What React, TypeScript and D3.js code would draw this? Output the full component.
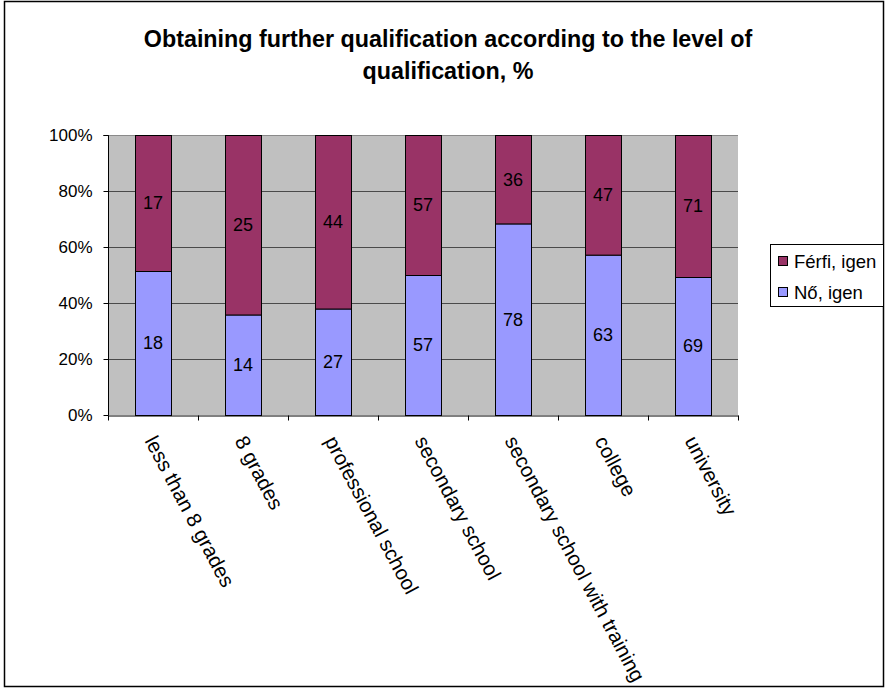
import React, { useEffect, useRef } from 'react';
import * as d3 from 'd3';

const categories = [
  'less than 8 grades',
  '8 grades',
  'professional school',
  'secondary school',
  'secondary school with training',
  'college',
  'university',
];
const noIgen = [18, 14, 27, 57, 78, 63, 69];
const ferfiIgen = [17, 25, 44, 57, 36, 47, 71];
const seriesNames = ['Nő, igen', 'Férfi, igen'];
const seriesColors = ['#9999FF', '#993366'];
const yTicks = [0, 0.2, 0.4, 0.6, 0.8, 1];
const titleLines = ['Obtaining further qualification according to the level of', 'qualification, %'];

const FONT = 'Arial, "Liberation Sans", sans-serif';

export default function App() {
  const svgRef = useRef<SVGSVGElement | null>(null);

  useEffect(() => {
    if (!svgRef.current) return;
    const width = 887;
    const height = 688;
    const plot = { left: 108, right: 738, top: 135, bottom: 415 };

    const svg = d3.select(svgRef.current);
    svg.selectAll('*').remove();
    svg.attr('width', width).attr('height', height);

    svg.append('rect').attr('x', 0).attr('y', 0).attr('width', width).attr('height', height).attr('fill', '#fff');

    // outer border
    svg.append('rect')
      .attr('x', 4.5).attr('y', 1.5).attr('width', 879).attr('height', 685)
      .attr('fill', 'none').attr('stroke', '#000').attr('stroke-width', 1.5);

    // title
    const title = svg.append('text')
      .attr('text-anchor', 'middle')
      .style('font-family', FONT).style('font-weight', 'bold').style('font-size', '23.3px')
      .attr('fill', '#000');
    titleLines.forEach((t, i) => {
      title.append('tspan').attr('x', 448).attr('y', 47 + i * 32).text(t);
    });

    const rows = categories.map((c, i) => ({ cat: c, nő: noIgen[i], férfi: ferfiIgen[i] }));
    const stacked = d3.stack<any>().keys(['nő', 'férfi']).offset(d3.stackOffsetExpand)(rows);

    const x = d3.scaleBand().domain(categories).range([plot.left, plot.right]).paddingInner(0.6).paddingOuter(0.3);
    const y = d3.scaleLinear().domain([0, 1]).range([plot.bottom, plot.top]);

    // plot background
    svg.append('rect')
      .attr('x', plot.left).attr('y', plot.top)
      .attr('width', plot.right - plot.left).attr('height', plot.bottom - plot.top)
      .attr('fill', '#C0C0C0');

    // gridlines
    svg.append('g').selectAll('line').data(yTicks.filter(d => d > 0)).join('line')
      .attr('x1', plot.left).attr('x2', plot.right)
      .attr('y1', d => y(d) + 0.5).attr('y2', d => y(d) + 0.5)
      .attr('stroke', d => (d === 1 ? '#8a8a8a' : '#4a4a4a')).attr('stroke-width', 1);

    // bars
    stacked.forEach((layer, si) => {
      svg.append('g').selectAll('rect').data(layer).join('rect')
        .attr('x', d => (x(d.data.cat) as number) + 0.5)
        .attr('y', d => y(d[1]) + 0.5)
        .attr('width', x.bandwidth())
        .attr('height', d => y(d[0]) - y(d[1]))
        .attr('fill', seriesColors[si])
        .attr('stroke', '#000').attr('stroke-width', 1);

      svg.append('g').selectAll('text').data(layer).join('text')
        .attr('x', d => (x(d.data.cat) as number) + x.bandwidth() / 2)
        .attr('y', d => (y(d[0]) + y(d[1])) / 2)
        .attr('text-anchor', 'middle').attr('dy', '0.36em')
        .style('font-family', FONT).style('font-size', '18px').attr('fill', '#000')
        .text((d, i) => (si === 0 ? noIgen[i] : ferfiIgen[i]));
    });

    // y axis
    svg.append('g').attr('transform', `translate(${plot.left + 0.5},0)`)
      .call(d3.axisLeft(y).tickValues(yTicks).tickFormat(d3.format('.0%')).tickSize(5).tickPadding(11))
      .call(g => g.selectAll('text').attr('fill', '#000').style('font-family', FONT).style('font-size', '17px'))
      .call(g => g.selectAll('line').attr('stroke', '#000'))
      .call(g => g.select('.domain').attr('stroke', '#000').attr('d', `M-5,${plot.top + 0.5}H0V${plot.bottom + 0.5}`));

    // x axis with ticks between categories
    const xb = d3.scaleLinear().domain([0, categories.length]).range([plot.left, plot.right]);
    svg.append('g').attr('transform', `translate(0,${plot.bottom + 0.5})`)
      .call(d3.axisBottom(xb).tickValues(d3.range(categories.length + 1)).tickFormat(() => '').tickSize(5).tickSizeOuter(0))
      .call(g => g.selectAll('line').attr('stroke', '#000'))
      .call(g => g.select('.domain').attr('stroke', '#000'));

    // category labels
    svg.append('g').selectAll('text').data(categories).join('text')
      .attr('transform', d => `translate(${(x(d) as number) + x.bandwidth() / 2 + 4},434) rotate(62)`)
      .attr('dy', '0.71em')
      .style('font-family', FONT).style('font-size', '20.5px').attr('fill', '#000')
      .text(d => d);

    // legend
    const lg = svg.append('g');
    lg.append('rect')
      .attr('x', 770.5).attr('y', 244.5).attr('width', 113).attr('height', 62)
      .attr('fill', '#fff').attr('stroke', '#000');
    const legendItems = [1, 0];
    legendItems.forEach((si, i) => {
      const cy = 261 + i * 31;
      lg.append('rect')
        .attr('x', 778.5).attr('y', cy - 4.5).attr('width', 9).attr('height', 9)
        .attr('fill', seriesColors[si]).attr('stroke', '#000');
      lg.append('text')
        .attr('x', 794).attr('y', cy).attr('dy', '0.36em')
        .style('font-family', FONT).style('font-size', '18.5px').attr('fill', '#000')
        .text(seriesNames[si]);
    });
  }, []);

  return (
    <div style={{ position: 'absolute', left: 0, top: 0 }}>
      <svg ref={svgRef} style={{ display: 'block' }} />
    </div>
  );
}
